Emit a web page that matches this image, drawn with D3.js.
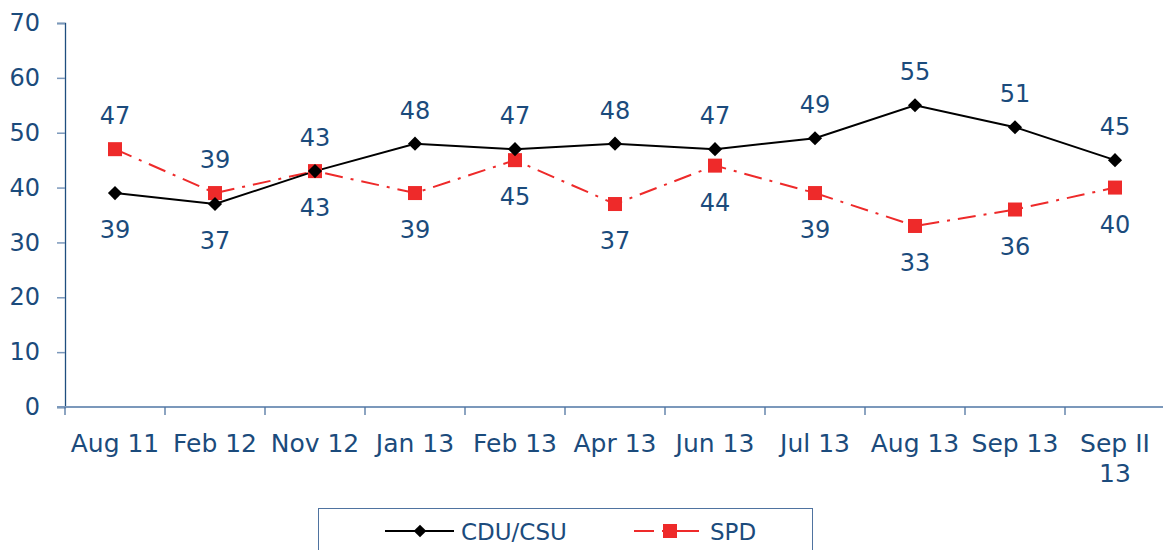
<!DOCTYPE html>
<html>
<head>
<meta charset="utf-8">
<script src="https://cdn.jsdelivr.net/npm/d3@7"></script>
<style>
  body { margin: 0; background: #fff; }
  text { font-family: "DejaVu Sans", Verdana, sans-serif; fill: #1b4b7c; }
</style>
</head>
<body>
<svg width="1163" height="550"></svg>
<script>
// Chart data
const categories = ["Aug 11", "Feb 12", "Nov 12", "Jan 13", "Feb 13", "Apr 13", "Jun 13", "Jul 13", "Aug 13", "Sep 13", "Sep II 13"];
const cduValues = [39, 37, 43, 48, 47, 48, 47, 49, 55, 51, 45];
const spdValues = [47, 39, 43, 39, 45, 37, 44, 39, 33, 36, 40];
const yTicks = [0, 10, 20, 30, 40, 50, 60, 70];

const svg = d3.select("svg");
const plotL = 65, plotR = 1165, plotT = 23, plotB = 407;

const x = d3.scaleBand().domain(categories).range([plotL, plotR]);
const y = d3.scaleLinear().domain([0, 70]).range([plotB, plotT]);

// y axis
const yAxis = svg.append("g")
    .attr("transform", `translate(${plotL},0)`)
    .call(d3.axisLeft(y).tickValues(yTicks).tickSize(8).tickPadding(17));
yAxis.select(".domain").attr("stroke", "#1f4e7e").attr("stroke-width", 1.3);
yAxis.selectAll(".tick line").attr("stroke", "#7b98bb").attr("stroke-width", 1.5);
yAxis.selectAll("text").style("font-size", "24px").attr("fill", "#1b4b7c");

// x axis with ticks at category boundaries
const xAxis = svg.append("g").attr("transform", `translate(0,${plotB})`);
xAxis.append("line")
    .attr("x1", plotL - 8).attr("x2", plotR)
    .attr("stroke", "#7b98bb").attr("stroke-width", 2);
xAxis.selectAll(".xt")
  .data(categories.concat([null]))
  .enter().append("line")
    .attr("x1", (d, i) => plotL + i * x.bandwidth())
    .attr("x2", (d, i) => plotL + i * x.bandwidth())
    .attr("y1", 0).attr("y2", 8)
    .attr("stroke", "#4f73a0").attr("stroke-width", 1.3);
const xl = xAxis.selectAll(".xl")
  .data(categories)
  .enter().append("text")
    .attr("x", d => x(d) + x.bandwidth() / 2)
    .attr("y", 45)
    .attr("text-anchor", "middle")
    .style("font-size", "25px");
xl.each(function(d) {
  const t = d3.select(this);
  if (d === "Sep II 13") {
    t.append("tspan").attr("x", x(d) + x.bandwidth() / 2).text("Sep II");
    t.append("tspan").attr("x", x(d) + x.bandwidth() / 2).attr("dy", 30).text("13");
  } else {
    t.text(d);
  }
});

const cx = d => x(d) + x.bandwidth() / 2;
const line = d3.line().x(d => cx(d.c)).y(d => y(d.v));

const cdu = categories.map((c, i) => ({ c, v: cduValues[i], other: spdValues[i] }));
const spd = categories.map((c, i) => ({ c, v: spdValues[i], other: cduValues[i] }));

svg.append("path").datum(spd)
    .attr("d", line).attr("fill", "none")
    .attr("stroke", "#ee2a2a").attr("stroke-width", 2)
    .attr("stroke-dasharray", "18,8,3,8");

svg.append("path").datum(cdu)
    .attr("d", line).attr("fill", "none")
    .attr("stroke", "#000").attr("stroke-width", 2);

// markers
svg.selectAll(".sq").data(spd).enter().append("rect")
    .attr("x", d => cx(d.c) - 7).attr("y", d => y(d.v) - 7)
    .attr("width", 14).attr("height", 14)
    .attr("fill", "#ee2a2a");
svg.selectAll(".dm").data(cdu).enter().append("path")
    .attr("d", d3.symbol(d3.symbolSquare, 100))
    .attr("transform", d => `translate(${cx(d.c)},${y(d.v)}) rotate(45)`)
    .attr("fill", "#000");

// data labels: higher one above, lower one below
function labels(data, isCdu) {
  svg.selectAll(null).data(data).enter().append("text")
    .attr("x", d => cx(d.c))
    .attr("y", d => {
      const above = d.v > d.other || (d.v === d.other && !isCdu);
      return above ? y(d.v) - 25 : y(d.v) + 45;
    })
    .attr("text-anchor", "middle")
    .style("font-size", "24px")
    .text(d => d.v);
}
labels(cdu, true);
labels(spd, false);

// legend
const lg = svg.append("g");
lg.append("rect").attr("x", 318.5).attr("y", 508.5).attr("width", 494).attr("height", 60)
    .attr("fill", "none").attr("stroke", "#4f73a0").attr("stroke-width", 1);
lg.append("line").attr("x1", 385).attr("x2", 454).attr("y1", 531).attr("y2", 531)
    .attr("stroke", "#000").attr("stroke-width", 2);
lg.append("path").attr("d", d3.symbol(d3.symbolSquare, 80))
    .attr("transform", "translate(420,531) rotate(45)").attr("fill", "#000");
lg.append("text").attr("x", 461).attr("y", 540).style("font-size", "23px").text("CDU/CSU");
lg.append("line").attr("x1", 634).attr("x2", 705).attr("y1", 531).attr("y2", 531)
    .attr("stroke", "#ee2a2a").attr("stroke-width", 2)
    .attr("stroke-dasharray", "20,8,37,8,3");
lg.append("rect").attr("x", 663).attr("y", 524).attr("width", 14).attr("height", 14).attr("fill", "#ee2a2a");
lg.append("text").attr("x", 710).attr("y", 540).style("font-size", "23px").text("SPD");
</script>
</body>
</html>
